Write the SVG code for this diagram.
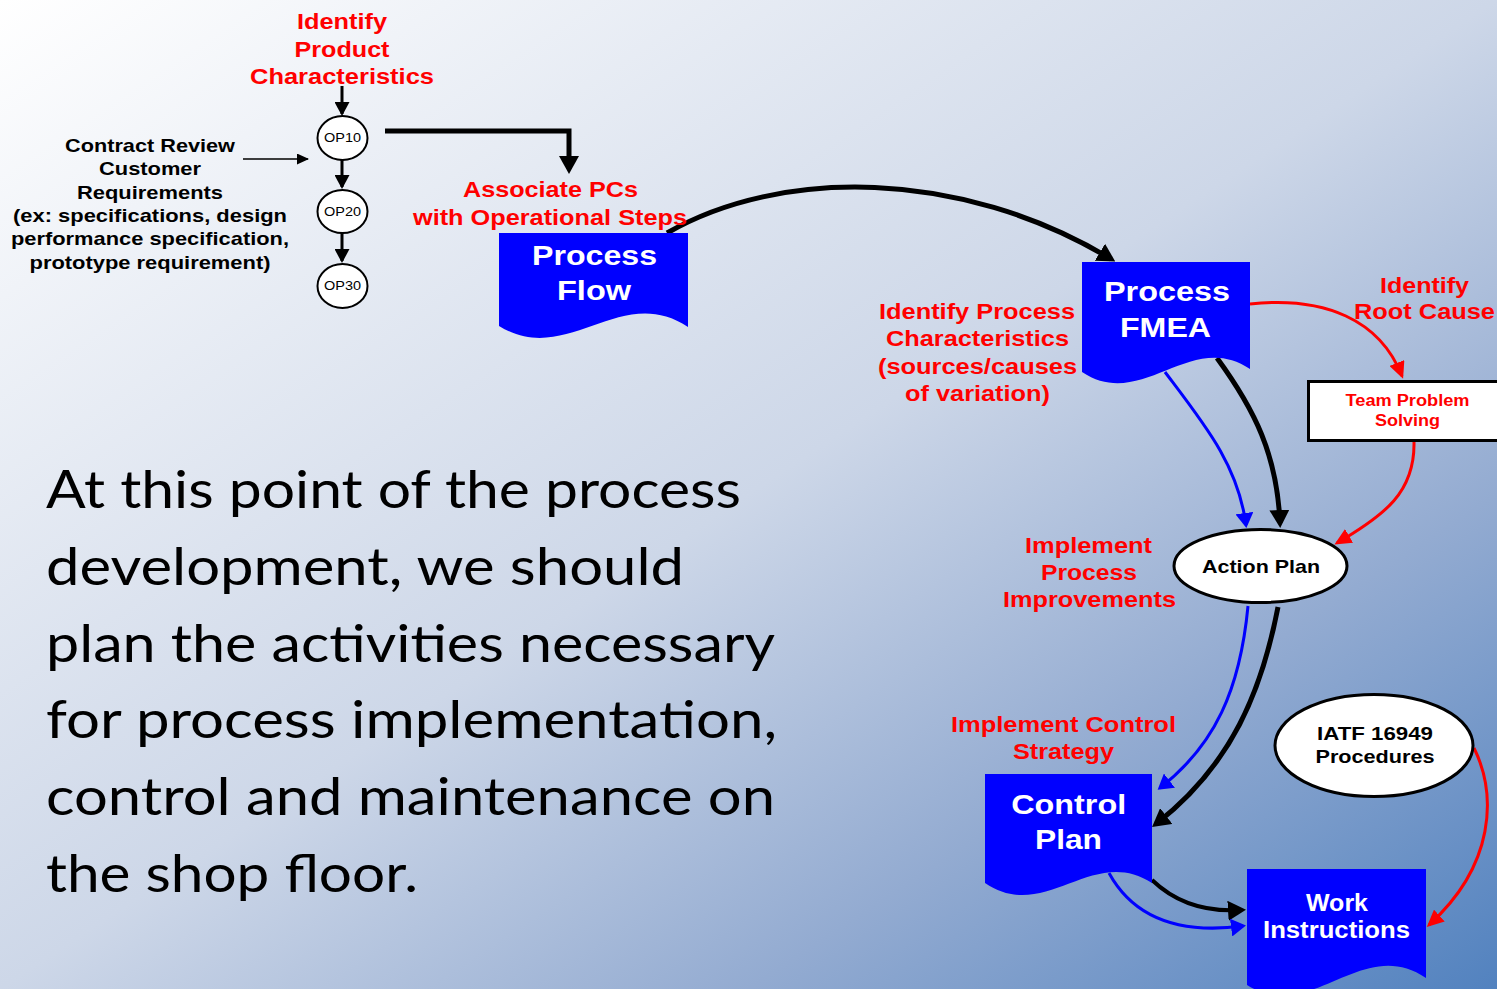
<svg xmlns="http://www.w3.org/2000/svg" width="1497" height="989" viewBox="0 0 1497 989">
<defs>
<linearGradient id="bg" x1="0" y1="0" x2="1" y2="1">
<stop offset="0" stop-color="#ffffff"/>
<stop offset="0.5" stop-color="#cdd7e8"/>
<stop offset="0.75" stop-color="#93abd1"/>
<stop offset="1" stop-color="#5282bf"/>
</linearGradient>
<marker id="mBlk" markerUnits="userSpaceOnUse" viewBox="0 0 18 20" markerWidth="18" markerHeight="20" refX="13" refY="10" orient="auto"><path d="M0,0 L18,10 L0,20 Z" fill="#000"/></marker>
<marker id="mBlkS" markerUnits="userSpaceOnUse" viewBox="0 0 14 15" markerWidth="14" markerHeight="15" refX="12" refY="7.5" orient="auto"><path d="M0,0 L14,7.5 L0,15 Z" fill="#000"/></marker>
<marker id="mThin" markerUnits="userSpaceOnUse" viewBox="0 0 12 11" markerWidth="12" markerHeight="11" refX="11" refY="5.5" orient="auto"><path d="M0,0 L12,5.5 L0,11 Z" fill="#000"/></marker>
<marker id="mBlue" markerUnits="userSpaceOnUse" viewBox="0 0 15 18" markerWidth="15" markerHeight="18" refX="12" refY="9" orient="auto"><path d="M0,0 L15,9 L0,18 Z" fill="#0000ff"/></marker>
<marker id="mRed" markerUnits="userSpaceOnUse" viewBox="0 0 17 16" markerWidth="17" markerHeight="16" refX="14" refY="8" orient="auto"><path d="M0,0 L17,8 L0,16 Z" fill="#ff0000"/></marker>
<style>
.t{font-family:"Liberation Sans",Arial,sans-serif;font-weight:bold;text-anchor:middle}
.red{fill:#ff0000;font-size:22px}
.blk{fill:#000}
.wht{fill:#fff}
.doc{fill:#0000ff}
.body{font-family:Lato,"Open Sans",sans-serif;font-size:53px;fill:#000}
.c{fill:none}
.kb{stroke:#000;stroke-width:5}
.kb4{stroke:#000;stroke-width:4}
.ks{stroke:#000;stroke-width:3}
.bl{stroke:#0000ff;stroke-width:3}
.rd{stroke:#ff0000;stroke-width:3}
.op{fill:#fff;stroke:#000;stroke-width:2}
.el{fill:#fff;stroke:#000;stroke-width:3}
</style>
</defs>
<rect x="0" y="0" width="1497" height="989" fill="url(#bg)"/>

<g id="connectors">
<path class="c ks" d="M342,86 V114" marker-end="url(#mBlkS)"/>
<path class="c ks" d="M342,160 V187" marker-end="url(#mBlkS)"/>
<path class="c ks" d="M342,233 V261" marker-end="url(#mBlkS)"/>
<path class="c" stroke="#000" stroke-width="1.5" d="M243,159 H308" marker-end="url(#mThin)"/>
<path class="c kb" d="M385,131 H569 V169" marker-end="url(#mBlk)"/>
<path class="c kb" d="M667,233 C780,168 960,168 1111,259" marker-end="url(#mBlk)"/>
<path class="c rd" d="M1250,304 C1325,296 1380,320 1402,376" marker-end="url(#mRed)"/>
<path class="c rd" d="M1414,442 C1415,492 1385,515 1337,543" marker-end="url(#mRed)"/>
<path class="c bl" d="M1165,372 C1205,425 1238,465 1246,525" marker-end="url(#mBlue)"/>
<path class="c kb" d="M1217,358 C1255,410 1277,455 1280,523" marker-end="url(#mBlk)"/>
<path class="c bl" d="M1248,606 C1240,690 1215,745 1160,788" marker-end="url(#mBlue)"/>
<path class="c kb" d="M1278,607 C1262,690 1232,765 1156,824" marker-end="url(#mBlk)"/>
<path class="c kb4" d="M1152,880 C1178,905 1210,912 1241,910" marker-end="url(#mBlk)"/>
<path class="c bl" d="M1109,873 C1132,915 1175,935 1243,926" marker-end="url(#mBlue)"/>
<path class="c rd" d="M1474,748 C1497,795 1495,865 1429,925" marker-end="url(#mRed)"/>
</g>

<g id="label-identify-product">
<text class="t red" font-size="24" x="342" y="29" textLength="90" lengthAdjust="spacingAndGlyphs">Identify</text>
<text class="t red" x="342" y="57" textLength="95" lengthAdjust="spacingAndGlyphs">Product</text>
<text class="t red" x="342" y="84" textLength="184" lengthAdjust="spacingAndGlyphs">Characteristics</text>
</g>

<g id="label-contract" class="t blk" font-size="19">
<text x="150" y="152" textLength="170" lengthAdjust="spacingAndGlyphs">Contract Review</text>
<text x="150" y="175.3" textLength="102" lengthAdjust="spacingAndGlyphs">Customer</text>
<text x="150" y="198.6" textLength="146" lengthAdjust="spacingAndGlyphs">Requirements</text>
<text x="150" y="222" textLength="274" lengthAdjust="spacingAndGlyphs">(ex: specifications, design</text>
<text x="150" y="245.3" textLength="278" lengthAdjust="spacingAndGlyphs">performance specification,</text>
<text x="150" y="268.6" textLength="241" lengthAdjust="spacingAndGlyphs">prototype requirement)</text>
</g>

<g id="op10"><ellipse class="op" cx="342.5" cy="138" rx="25" ry="22"/><text x="342.5" y="142" font-family="Liberation Sans,Arial,sans-serif" font-size="13" text-anchor="middle" textLength="37" lengthAdjust="spacingAndGlyphs">OP10</text></g>
<g id="op20"><ellipse class="op" cx="342.5" cy="211.5" rx="25" ry="21.5"/><text x="342.5" y="216" font-family="Liberation Sans,Arial,sans-serif" font-size="13" text-anchor="middle" textLength="37" lengthAdjust="spacingAndGlyphs">OP20</text></g>
<g id="op30"><ellipse class="op" cx="342.5" cy="286" rx="25" ry="22"/><text x="342.5" y="290" font-family="Liberation Sans,Arial,sans-serif" font-size="13" text-anchor="middle" textLength="37" lengthAdjust="spacingAndGlyphs">OP30</text></g>

<g id="label-associate" class="t red">
<text x="550.5" y="197" textLength="175" lengthAdjust="spacingAndGlyphs">Associate PCs</text>
<text x="550" y="225" textLength="274" lengthAdjust="spacingAndGlyphs">with Operational Steps</text>
</g>

<g id="process-flow">
<path class="doc" d="M499,233 H688 V327 C620,282 567,368 499,326 Z"/>
<text class="t wht" font-size="28" x="594.5" y="265" textLength="125" lengthAdjust="spacingAndGlyphs">Process</text>
<text class="t wht" font-size="28" x="594" y="300" textLength="74" lengthAdjust="spacingAndGlyphs">Flow</text>
</g>

<g id="process-fmea">
<path class="doc" d="M1082,262 H1250 V369 C1190,329 1142,412 1082,372 Z"/>
<text class="t wht" font-size="28" x="1167" y="301" textLength="126" lengthAdjust="spacingAndGlyphs">Process</text>
<text class="t wht" font-size="28" x="1165.5" y="337" textLength="91" lengthAdjust="spacingAndGlyphs">FMEA</text>
</g>

<g id="label-identify-process" class="t red">
<text x="977" y="318.5" textLength="196" lengthAdjust="spacingAndGlyphs">Identify Process</text>
<text x="977.5" y="346" textLength="183" lengthAdjust="spacingAndGlyphs">Characteristics</text>
<text x="977.5" y="373.5" textLength="199" lengthAdjust="spacingAndGlyphs">(sources/causes</text>
<text x="977.5" y="401" textLength="145" lengthAdjust="spacingAndGlyphs">of variation)</text>
</g>

<g id="label-root-cause" class="t red">
<text x="1424.5" y="293" textLength="89" lengthAdjust="spacingAndGlyphs">Identify</text>
<text x="1424.5" y="319" textLength="141" lengthAdjust="spacingAndGlyphs">Root Cause</text>
</g>

<g id="team-problem-solving">
<rect x="1308.5" y="381.5" width="200" height="59" fill="#fff" stroke="#000" stroke-width="3"/>
<text class="t" fill="#ff0000" font-size="16" x="1407.5" y="406" textLength="124" lengthAdjust="spacingAndGlyphs">Team Problem</text>
<text class="t" fill="#ff0000" font-size="16" x="1407.5" y="426" textLength="65" lengthAdjust="spacingAndGlyphs">Solving</text>
</g>

<g id="action-plan">
<ellipse class="el" cx="1260.5" cy="566" rx="86.5" ry="36.5"/>
<text class="t blk" font-size="19" x="1261" y="573" textLength="118" lengthAdjust="spacingAndGlyphs">Action Plan</text>
</g>

<g id="label-implement-process" class="t red">
<text x="1088.5" y="553" textLength="127" lengthAdjust="spacingAndGlyphs">Implement</text>
<text x="1089" y="580" textLength="96" lengthAdjust="spacingAndGlyphs">Process</text>
<text x="1089.5" y="607" textLength="173" lengthAdjust="spacingAndGlyphs">Improvements</text>
</g>

<g id="label-implement-control" class="t red">
<text x="1063.5" y="732" textLength="225" lengthAdjust="spacingAndGlyphs">Implement Control</text>
<text x="1063.5" y="759" textLength="101" lengthAdjust="spacingAndGlyphs">Strategy</text>
</g>

<g id="control-plan">
<path class="doc" d="M985,774 H1152 V883 C1092,844 1045,924 985,883 Z"/>
<text class="t wht" font-size="28" x="1068.7" y="814" textLength="115" lengthAdjust="spacingAndGlyphs">Control</text>
<text class="t wht" font-size="28" x="1068.5" y="849" textLength="67" lengthAdjust="spacingAndGlyphs">Plan</text>
</g>

<g id="iatf">
<ellipse class="el" cx="1374" cy="745.5" rx="99" ry="51"/>
<text class="t blk" font-size="19" x="1375" y="740" textLength="116" lengthAdjust="spacingAndGlyphs">IATF 16949</text>
<text class="t blk" font-size="19" x="1375" y="763" textLength="119" lengthAdjust="spacingAndGlyphs">Procedures</text>
</g>

<g id="work-instructions">
<path class="doc" d="M1247,869 H1426 V978 C1362,934 1311,1025 1247,985 Z"/>
<text class="t wht" font-size="23" x="1337" y="911" textLength="62" lengthAdjust="spacingAndGlyphs">Work</text>
<text class="t wht" font-size="23" x="1336.5" y="938" textLength="147" lengthAdjust="spacingAndGlyphs">Instructions</text>
</g>

<g id="body-text" class="body">
<text x="46" y="508" textLength="695" lengthAdjust="spacingAndGlyphs">At this point of the process</text>
<text x="46" y="585" textLength="638" lengthAdjust="spacingAndGlyphs">development, we should</text>
<text x="46" y="662" textLength="729" lengthAdjust="spacingAndGlyphs">plan the activities necessary</text>
<text x="46" y="738" textLength="731" lengthAdjust="spacingAndGlyphs">for process implementation,</text>
<text x="46" y="815" textLength="729" lengthAdjust="spacingAndGlyphs">control and maintenance on</text>
<text x="46" y="892" textLength="372" lengthAdjust="spacingAndGlyphs">the shop floor.</text>
</g>
</svg>
